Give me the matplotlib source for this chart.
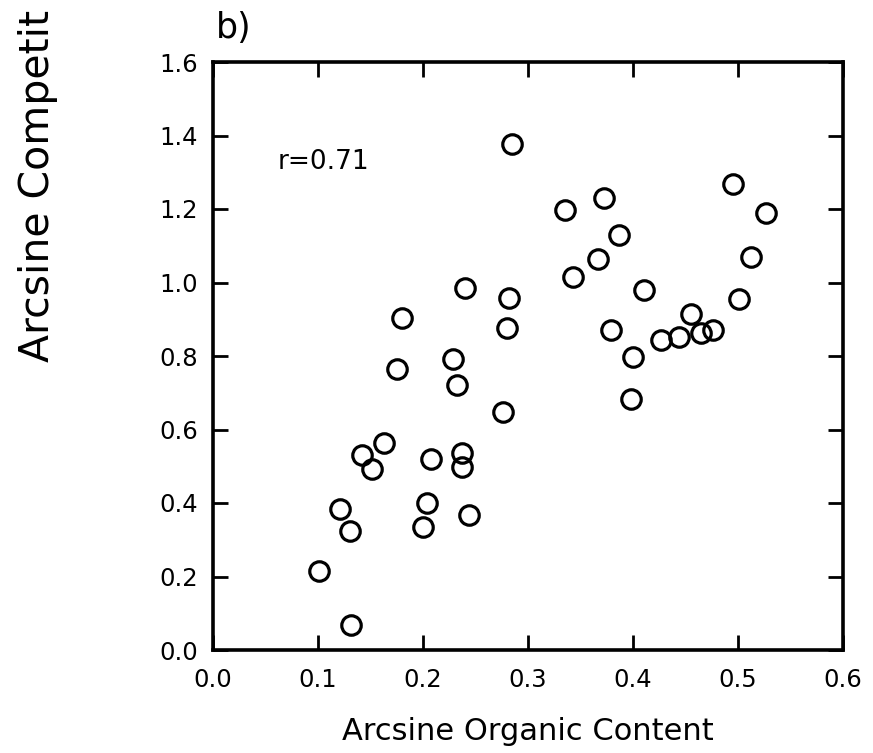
import matplotlib
matplotlib.use("Agg")
import matplotlib.pyplot as plt

# Data
organic = [0.101, 0.131, 0.121, 0.130, 0.142, 0.151, 0.163, 0.208, 0.204, 0.200,
           0.237, 0.237, 0.244, 0.232, 0.276, 0.175, 0.180, 0.285, 0.335, 0.372,
           0.387, 0.367, 0.343, 0.240, 0.282, 0.280, 0.410, 0.379, 0.400, 0.229,
           0.427, 0.444, 0.455, 0.465, 0.476, 0.495, 0.527, 0.512, 0.501, 0.398]
competition = [0.216, 0.067, 0.385, 0.324, 0.530, 0.493, 0.563, 0.520, 0.401, 0.334,
               0.537, 0.498, 0.366, 0.721, 0.648, 0.765, 0.904, 1.377, 1.196, 1.229,
               1.130, 1.063, 1.014, 0.984, 0.957, 0.875, 0.980, 0.870, 0.797, 0.793,
               0.844, 0.851, 0.915, 0.862, 0.872, 1.269, 1.189, 1.070, 0.955, 0.683]

x_ticks = [0.0, 0.1, 0.2, 0.3, 0.4, 0.5, 0.6]
x_labels = ["0.0", "0.1", "0.2", "0.3", "0.4", "0.5", "0.6"]
y_ticks = [0.0, 0.2, 0.4, 0.6, 0.8, 1.0, 1.2, 1.4, 1.6]
y_labels = ["0.0", "0.2", "0.4", "0.6", "0.8", "1.0", "1.2", "1.4", "1.6"]

fig = plt.figure(figsize=(8.73, 7.53), dpi=100)
ax = fig.add_axes([213 / 873, 1 - 650 / 753, (843 - 213) / 873, (650 - 62) / 753])

ax.plot(organic, competition, linestyle="none", marker="o", markersize=14,
        markerfacecolor="none", markeredgecolor="black", markeredgewidth=2.3)

ax.set_xlim(0.0, 0.6)
ax.set_ylim(0.0, 1.6)
ax.set_xticks(x_ticks)
ax.set_xticklabels(x_labels)
ax.set_yticks(y_ticks)
ax.set_yticklabels(y_labels)

for s in ax.spines.values():
    s.set_linewidth(2.6)

ax.tick_params(axis="both", which="major", direction="in", length=11, width=2,
               labelsize=17.5, top=True, right=True, color="black")
ax.tick_params(axis="x", pad=13)
ax.tick_params(axis="y", pad=11)

ax.set_xlabel("Arcsine Organic Content", fontsize=22, labelpad=18)

fig.text(38 / 873, 1 - 362 / 753, "Arcsine Competit", rotation=90, fontsize=29.5,
         ha="center", va="bottom")
fig.text(216 / 873, 1 - 28 / 753, "b)", fontsize=25, ha="left", va="center")
ax.text(0.062, 1.327, "r=0.71", fontsize=19, ha="left", va="center")

fig.savefig("out.png", dpi=100)
